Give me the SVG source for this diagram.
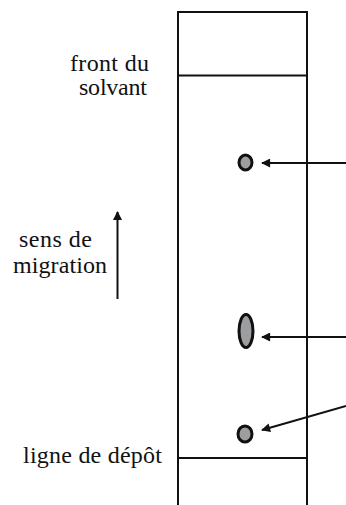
<svg xmlns="http://www.w3.org/2000/svg" width="346" height="505" viewBox="0 0 346 505">
<style>
.lbl{font-family:'Liberation Serif','Times New Roman',serif;font-size:24px;fill:#111}
.frame{fill:none;stroke:#111;stroke-width:2}
.conn{stroke:#111;stroke-width:2;fill:none}
.spot{fill:#9c9ea0;stroke:#111;stroke-width:3}
</style>
<defs>
<marker id="ah" viewBox="0 0 10 10" refX="9" refY="5" markerWidth="5.5" markerHeight="4.5" markerUnits="strokeWidth" orient="auto">
<path d="M0,0 L10,5 L0,10 z" fill="#111"/>
</marker>
</defs>
<rect width="346" height="505" fill="#fff"/>
<g id="plate">
<path class="frame" d="M178,506 V12 H307 V506"/>
<line class="frame" x1="178" y1="75.5" x2="307" y2="75.5"/>
<line class="frame" x1="178" y1="458" x2="307" y2="458"/>
</g>
<g id="front-label"><text class="lbl" x="149" y="71" text-anchor="end" textLength="79">front du</text><text class="lbl" x="147" y="95" text-anchor="end" textLength="68">solvant</text></g>
<g id="migration-label"><text class="lbl" x="19" y="247" textLength="73">sens de</text><text class="lbl" x="13" y="273" textLength="94">migration</text></g>
<g id="depot-label"><text class="lbl" x="23" y="463" textLength="139">ligne de dépôt</text></g>
<g id="spot1"><ellipse class="spot" cx="245.5" cy="162.5" rx="6.5" ry="7.5"/></g>
<g id="spot2"><ellipse class="spot" cx="246" cy="331" rx="7" ry="16.5"/></g>
<g id="spot3"><ellipse class="spot" cx="245" cy="434" rx="7" ry="8"/></g>
<g id="connectors">
<line class="conn" x1="117.5" y1="299" x2="117.5" y2="212" marker-end="url(#ah)"/>
<line class="conn" x1="346" y1="163" x2="262" y2="163" marker-end="url(#ah)"/>
<line class="conn" x1="346" y1="337" x2="262" y2="337" marker-end="url(#ah)"/>
<line class="conn" x1="346" y1="406" x2="262" y2="430" marker-end="url(#ah)"/>
</g>
</svg>
